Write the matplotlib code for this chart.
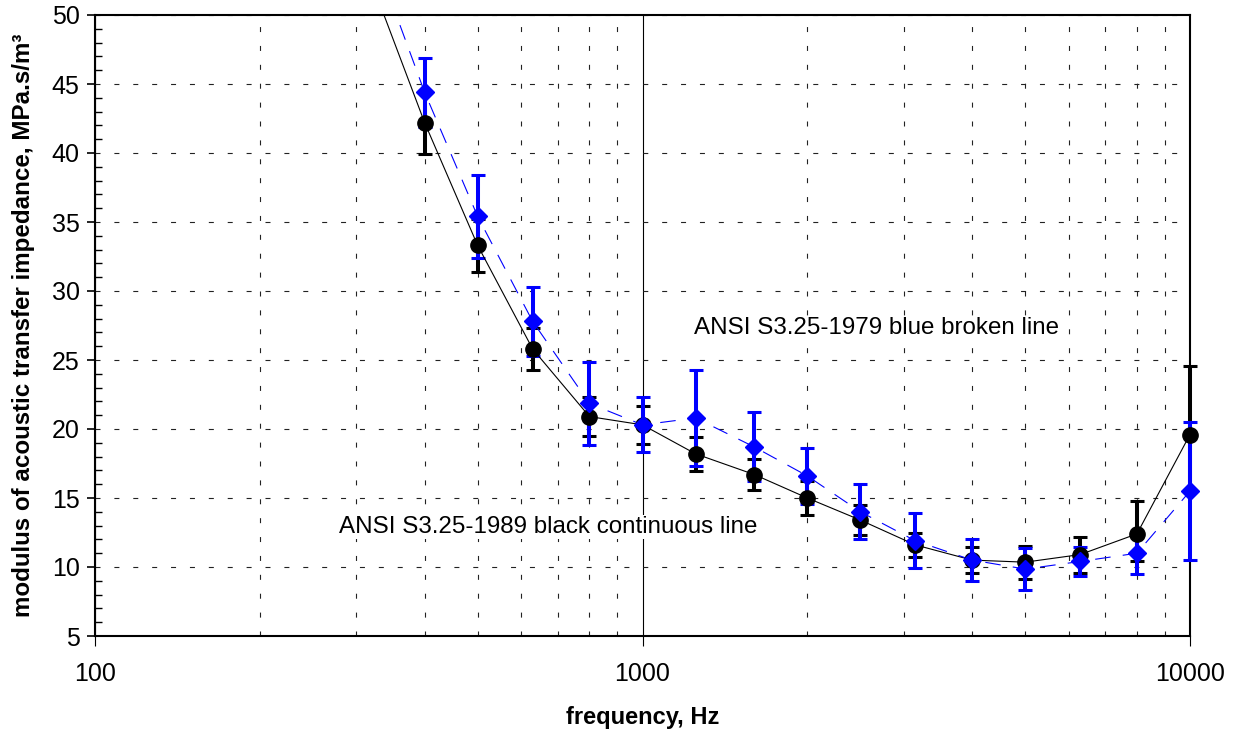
import numpy as np
import matplotlib.pyplot as plt
from matplotlib.patches import Rectangle
from matplotlib.ticker import FixedLocator, NullFormatter, MultipleLocator

plt.rcParams["font.family"] = ["Liberation Sans", "DejaVu Sans"]

# one-third octave band centre frequencies, Hz
freq = [315, 400, 500, 630, 800, 1000, 1250, 1600, 2000, 2500, 3150, 4000, 5000, 6300, 8000, 10000]

# ANSI S3.25-1989 (black, continuous)
z_1989 = [53.1, 42.2, 33.3, 25.8, 20.9, 20.3, 18.2, 16.7, 15.0, 13.4, 11.6, 10.5, 10.35, 10.9, 12.4, 19.6]
err_1989_lo = [2.6, 2.3, 1.9, 1.5, 1.4, 1.4, 1.25, 1.15, 1.2, 1.1, 0.9, 0.95, 1.2, 1.3, 2.0, 4.0]
err_1989_hi = [2.6, 2.3, 1.9, 1.5, 1.4, 1.4, 1.25, 1.15, 1.2, 1.1, 0.9, 0.95, 1.2, 1.3, 2.35, 5.0]

# ANSI S3.25-1979 (blue, broken)
z_1979 = [55.6, 44.4, 35.4, 27.8, 21.85, 20.3, 20.8, 18.7, 16.6, 14.0, 11.9, 10.5, 9.85, 10.4, 11.0, 15.5]
err_1979 = [2.5, 2.5, 3.0, 2.5, 3.0, 2.0, 3.5, 2.5, 2.0, 2.0, 2.0, 1.5, 1.55, 1.05, 1.5, 5.0]

blue = "#0000ff"

fig = plt.figure(figsize=(12.37, 7.31), dpi=100)
ax = fig.add_axes([95 / 1237, 1 - 636 / 731, 1095 / 1237, 621 / 731])

# error bars first, lines and markers on top
eb_black = ax.errorbar(freq, z_1989, yerr=[err_1989_lo, err_1989_hi], fmt="none", ecolor="black",
                       elinewidth=2.9, capsize=4.7, capthick=2.2, zorder=3)
eb_blue = ax.errorbar(freq, z_1979, yerr=err_1979, fmt="none", ecolor=blue,
                      elinewidth=2.9, capsize=4.7, capthick=2.2, zorder=4)

ax.plot(freq, z_1989, color="black", lw=0.8, zorder=5)
ax.plot(freq, z_1979, color=blue, lw=0.8, dashes=(14, 11), zorder=5)
mk_black, = ax.plot(freq, z_1989, "o", color="black", ms=11, ls="none", zorder=6)
mk_blue, = ax.plot(freq, z_1979, "D", color=blue, ms=8.8, ls="none", zorder=7)

# let the marks at 10 kHz spill over the right frame, clip only top/bottom
clip = Rectangle((-0.05, 0), 1.1, 1, transform=ax.transAxes, fill=False, visible=False)
ax.add_patch(clip)
for art in list(eb_black.lines[1]) + list(eb_black.lines[2]) + \
        list(eb_blue.lines[1]) + list(eb_blue.lines[2]) + [mk_black, mk_blue]:
    art.set_clip_path(clip)

ax.set_xscale("log")
ax.set_xlim(100, 10000)
ax.set_ylim(5, 50)

ax.xaxis.set_major_locator(FixedLocator([100, 1000, 10000]))
ax.xaxis.set_major_formatter(plt.FuncFormatter(lambda v, p: f"{v:.0f}"))
minor_x = [m * d for d in (100, 1000) for m in range(2, 10)]
ax.xaxis.set_minor_locator(FixedLocator(minor_x))
ax.xaxis.set_minor_formatter(NullFormatter())
ax.yaxis.set_major_locator(MultipleLocator(5))
ax.yaxis.set_minor_locator(MultipleLocator(1))

ax.tick_params(axis="x", which="major", direction="out", length=7, width=0.8, pad=12, labelsize=18)
ax.tick_params(axis="x", which="minor", length=0)
ax.tick_params(axis="y", which="major", direction="out", length=6, width=1.2, pad=5, labelsize=18)
ax.tick_params(axis="y", which="minor", direction="in", length=5, width=1)

grid_col = "#222222"
ax.grid(True, which="major", axis="x", color="black", lw=0.8, ls="-")
ax.grid(True, which="minor", axis="x", color=grid_col, lw=0.8, dashes=(4.5, 12.5))
ax.grid(True, which="major", axis="y", color=grid_col, lw=0.8, dashes=(4.5, 12.5))
ax.set_axisbelow(True)

for s in ax.spines.values():
    s.set_linewidth(1.5)

ax.set_xlabel("frequency, Hz", fontsize=17, fontweight="bold", labelpad=14)
ax.set_ylabel("modulus of acoustic transfer impedance, MPa.s/m³", fontsize=17.4,
              fontweight="bold", labelpad=12)

box = dict(facecolor="white", edgecolor="none", pad=1)
ax.text(1240, 27.3, "ANSI S3.25-1979 blue broken line", fontsize=17.4,
        ha="left", va="center", bbox=box, zorder=2)
ax.text(279, 12.9, "ANSI S3.25-1989 black continuous line", fontsize=17.4,
        ha="left", va="center", bbox=box, zorder=2)

fig.savefig("out.png", dpi=100)
